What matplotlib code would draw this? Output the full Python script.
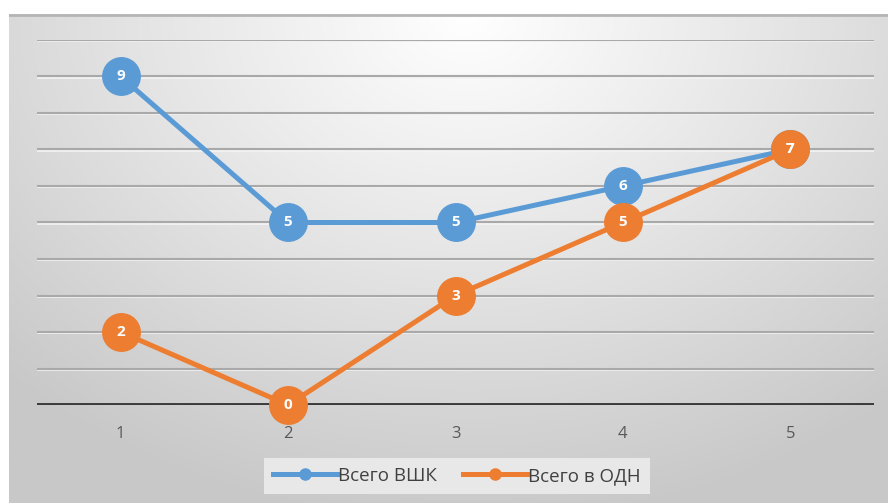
import numpy as np
import matplotlib.pyplot as plt
from matplotlib.colors import LinearSegmentedColormap

categories = [1, 2, 3, 4, 5]
vshk = [9, 5, 5, 6, 7]
odn = [2, 0, 3, 5, 7]
series_names = ['Всего ВШК', 'Всего в ОДН']
colors = ['#5B9BD5', '#ED7D31']

plt.rcParams['font.family'] = ['Open Sans', 'DejaVu Sans']

fig = plt.figure(figsize=(8.88, 5.03), dpi=100)

# фон: радиальный градиент
bg = fig.add_axes([9 / 888, 0, 879 / 888, 489 / 503])
bg.set_axis_off()
h, w = 300, 540
yy, xx = np.mgrid[0:h, 0:w]
cx, cy = w * 0.52, 0
r = np.sqrt(((xx - cx) / (w * 0.75)) ** 2 + ((yy - cy) / (h * 1.05)) ** 2)
r = np.clip(r, 0, 1)
cmap = LinearSegmentedColormap.from_list('bg', ['#ffffff', '#e4e4e4', '#c8c8c8'])
bg.imshow(r, cmap=cmap, aspect='auto', vmin=0, vmax=1, extent=[0, 1, 0, 1])
bg.set_xlim(0, 1)
bg.set_ylim(0, 1)
bg.axhline(0.997, color='#b5b5b5', lw=2)

ax = fig.add_axes([37 / 888, 98 / 503, 837 / 888, 365 / 503])
ax.patch.set_alpha(0)
for s in ax.spines.values():
    s.set_visible(False)
ax.set_xlim(0.5, 5.5)
ax.set_ylim(0, 10)
ax.set_yticks([])
ax.set_xticks(categories)
ax.tick_params(axis='x', length=0, pad=15, labelsize=12, labelcolor='#595959')

for v in range(1, 11):
    ax.axhline(v - 0.03, color='#f4f4f4', lw=1.2, zorder=1)
    ax.axhline(v, color='#a9a9a9', lw=1.5, zorder=1)
ax.axhline(0, color='#3a3a3a', lw=2.8, zorder=2)

for data, name, c in zip([vshk, odn], series_names, colors):
    ax.plot(categories, data, color=c, lw=3.6, marker='o', markersize=27,
            markeredgecolor=c, label=name, zorder=3, clip_on=False)
    for x, y in zip(categories, data):
        ax.text(x, y, str(y), color='white', fontsize=11, fontweight='bold',
                ha='center', va='center', zorder=4)

handles = [plt.Line2D([], [], color=c, lw=3.6, marker='o', markersize=8) for c in colors]
leg = fig.legend(handles, series_names, loc='center', bbox_to_anchor=(457 / 888, 1 - 476 / 503),
                 ncol=2, fontsize=13.5, frameon=True, fancybox=False, handlelength=3.4,
                 handletextpad=0.05, columnspacing=1.4, borderpad=0.5, labelcolor='#404040')
leg.get_frame().set_facecolor('#ececec')
leg.get_frame().set_edgecolor('none')
leg.get_frame().set_alpha(0.9)

fig.savefig('out.png', dpi=100)
